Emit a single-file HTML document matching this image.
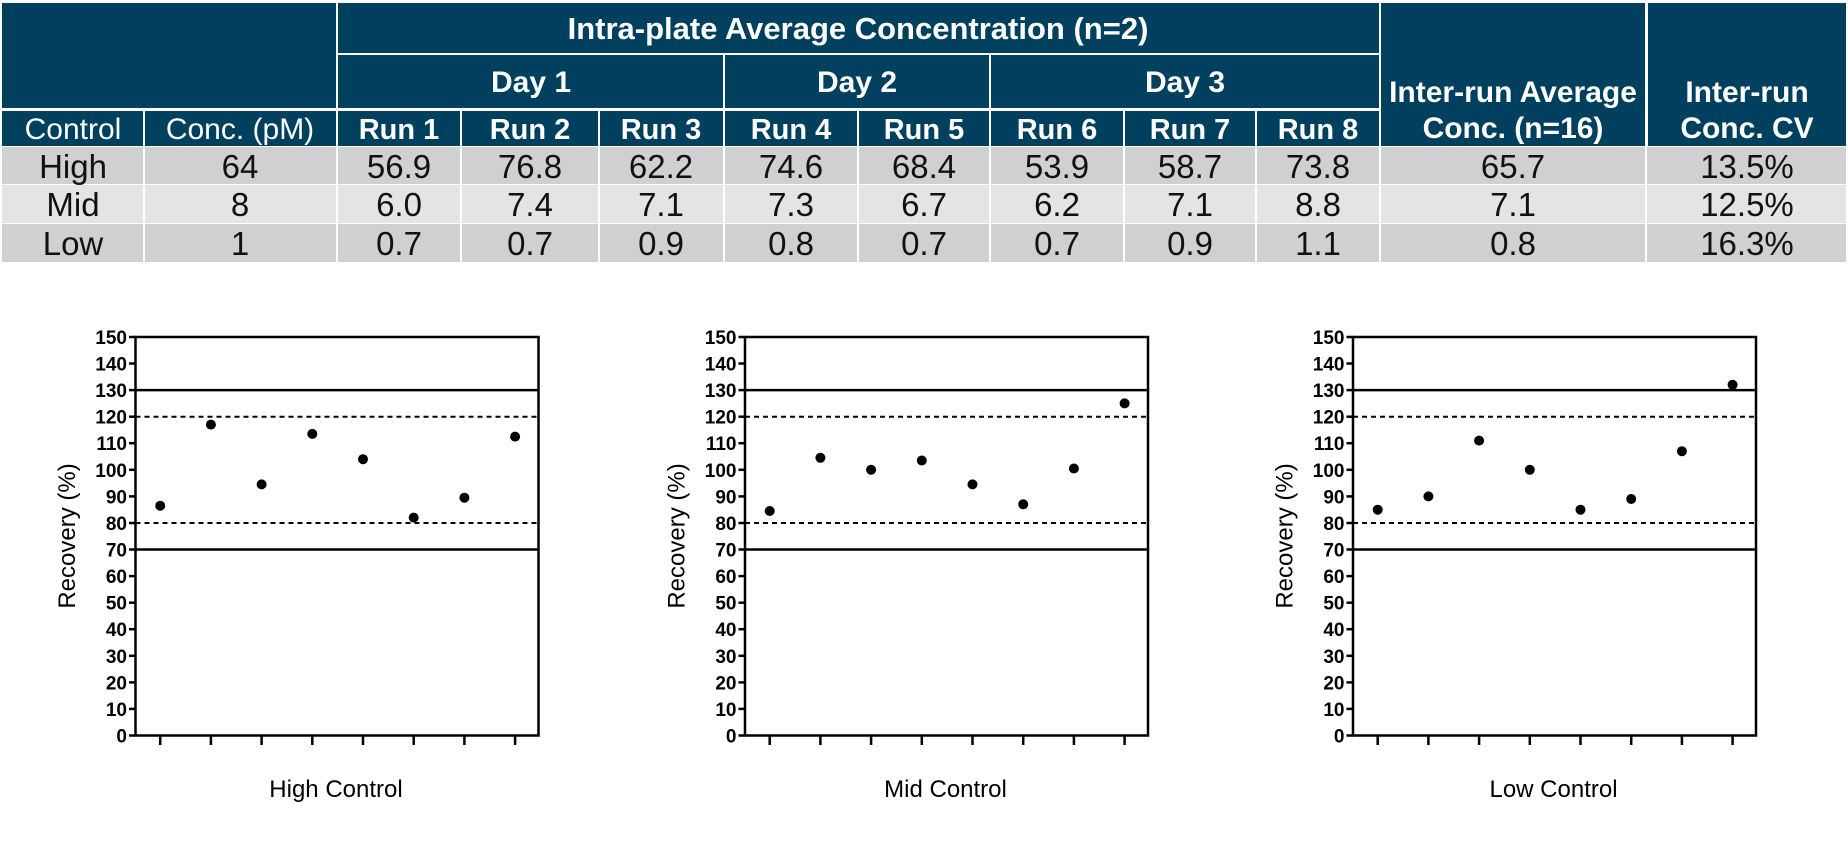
<!DOCTYPE html>
<html><head><meta charset="utf-8"><style>
html,body{margin:0;padding:0;background:#fff;width:1848px;height:852px;overflow:hidden}
svg{display:block}
.h{font-family:"Liberation Sans Narrow","Liberation Sans",sans-serif;fill:#fff;text-anchor:middle}
.b{font-weight:bold}
.d{font-family:"Liberation Sans Narrow","Liberation Sans",sans-serif;fill:#111;text-anchor:middle;font-size:33px}
.t{font-family:"Liberation Sans",sans-serif;font-weight:bold;font-size:19px;text-anchor:end;fill:#000}
.l{font-family:"Liberation Sans",sans-serif;font-size:24px;fill:#000;text-anchor:middle}
</style></head><body>
<svg width="1848" height="852" viewBox="0 0 1848 852" xmlns="http://www.w3.org/2000/svg">
<g fill="#00405f">
<rect x="2" y="3" width="334" height="105"/>
<rect x="338" y="3" width="1041" height="50"/>
<rect x="338" y="55" width="385" height="53"/>
<rect x="725" y="55" width="264" height="53"/>
<rect x="991" y="55" width="388" height="53"/>
<rect x="1381" y="3" width="264" height="143"/>
<rect x="1648" y="3" width="198" height="143"/>
<rect x="2" y="111" width="141" height="35"/>
<rect x="145" y="111" width="191" height="35"/>
<rect x="338" y="111" width="122" height="35"/>
<rect x="462" y="111" width="136" height="35"/>
<rect x="600" y="111" width="123" height="35"/>
<rect x="725" y="111" width="132" height="35"/>
<rect x="859" y="111" width="130" height="35"/>
<rect x="991" y="111" width="132" height="35"/>
<rect x="1125" y="111" width="130" height="35"/>
<rect x="1257" y="111" width="122" height="35"/>
</g>
<g>
<rect x="2" y="147" width="1844" height="37" fill="#d0d0d2"/>
<rect x="2" y="185" width="1844" height="38" fill="#e4e4e6"/>
<rect x="2" y="224" width="1844" height="38" fill="#d0d0d2"/>
<g stroke="#fff" stroke-width="2">
<line x1="144" y1="147" x2="144" y2="262"/><line x1="337" y1="147" x2="337" y2="262"/>
<line x1="461" y1="147" x2="461" y2="262"/><line x1="599" y1="147" x2="599" y2="262"/>
<line x1="724" y1="147" x2="724" y2="262"/><line x1="858" y1="147" x2="858" y2="262"/>
<line x1="990" y1="147" x2="990" y2="262"/><line x1="1124" y1="147" x2="1124" y2="262"/>
<line x1="1256" y1="147" x2="1256" y2="262"/><line x1="1380" y1="147" x2="1380" y2="262"/>
<line x1="1646" y1="147" x2="1646" y2="262"/>
</g>
</g>
<text class="h b" x="858" y="39" font-size="31">Intra-plate Average Concentration (n=2)</text>
<text class="h b" x="531" y="92" font-size="30">Day 1</text>
<text class="h b" x="857" y="92" font-size="30">Day 2</text>
<text class="h b" x="1185" y="92" font-size="30">Day 3</text>
<text class="h b" x="1513" y="102" font-size="30">Inter-run Average</text>
<text class="h b" x="1513" y="138" font-size="30">Conc. (n=16)</text>
<text class="h b" x="1747" y="102" font-size="30">Inter-run</text>
<text class="h b" x="1747" y="138" font-size="30">Conc. CV</text>
<text class="h" x="73" y="139" font-size="30">Control</text>
<text class="h" x="240" y="139" font-size="30">Conc. (pM)</text>
<g class="h b" font-size="29">
<text x="399" y="139">Run 1</text><text x="530" y="139">Run 2</text><text x="661" y="139">Run 3</text>
<text x="791" y="139">Run 4</text><text x="924" y="139">Run 5</text><text x="1057" y="139">Run 6</text>
<text x="1190" y="139">Run 7</text><text x="1318" y="139">Run 8</text>
</g>
<g class="d">
<text x="73" y="178">High</text><text x="240" y="178">64</text><text x="399" y="178">56.9</text><text x="530" y="178">76.8</text><text x="661" y="178">62.2</text><text x="791" y="178">74.6</text><text x="924" y="178">68.4</text><text x="1057" y="178">53.9</text><text x="1190" y="178">58.7</text><text x="1318" y="178">73.8</text><text x="1513" y="178">65.7</text><text x="1747" y="178">13.5%</text>
<text x="73" y="216">Mid</text><text x="240" y="216">8</text><text x="399" y="216">6.0</text><text x="530" y="216">7.4</text><text x="661" y="216">7.1</text><text x="791" y="216">7.3</text><text x="924" y="216">6.7</text><text x="1057" y="216">6.2</text><text x="1190" y="216">7.1</text><text x="1318" y="216">8.8</text><text x="1513" y="216">7.1</text><text x="1747" y="216">12.5%</text>
<text x="73" y="255">Low</text><text x="240" y="255">1</text><text x="399" y="255">0.7</text><text x="530" y="255">0.7</text><text x="661" y="255">0.9</text><text x="791" y="255">0.8</text><text x="924" y="255">0.7</text><text x="1057" y="255">0.7</text><text x="1190" y="255">0.9</text><text x="1318" y="255">1.1</text><text x="1513" y="255">0.8</text><text x="1747" y="255">16.3%</text>
</g>

<defs>
<g id="frame">
<rect x="135.5" y="337" width="403" height="398.5" fill="none" stroke="#000" stroke-width="2.5"/>
<g stroke="#000" stroke-width="2.5">
<line x1="129" y1="735.5" x2="135.5" y2="735.5"/><line x1="129" y1="708.9" x2="135.5" y2="708.9"/>
<line x1="129" y1="682.4" x2="135.5" y2="682.4"/><line x1="129" y1="655.8" x2="135.5" y2="655.8"/>
<line x1="129" y1="629.2" x2="135.5" y2="629.2"/><line x1="129" y1="602.7" x2="135.5" y2="602.7"/>
<line x1="129" y1="576.1" x2="135.5" y2="576.1"/><line x1="129" y1="549.5" x2="135.5" y2="549.5"/>
<line x1="129" y1="523" x2="135.5" y2="523"/><line x1="129" y1="496.4" x2="135.5" y2="496.4"/>
<line x1="129" y1="469.8" x2="135.5" y2="469.8"/><line x1="129" y1="443.2" x2="135.5" y2="443.2"/>
<line x1="129" y1="416.7" x2="135.5" y2="416.7"/><line x1="129" y1="390.1" x2="135.5" y2="390.1"/>
<line x1="129" y1="363.5" x2="135.5" y2="363.5"/><line x1="129" y1="337" x2="135.5" y2="337"/>
<line x1="135.5" y1="549.5" x2="538.5" y2="549.5"/><line x1="135.5" y1="390.1" x2="538.5" y2="390.1"/>
<line x1="160.2" y1="735.5" x2="160.2" y2="745"/><line x1="210.9" y1="735.5" x2="210.9" y2="745"/>
<line x1="261.6" y1="735.5" x2="261.6" y2="745"/><line x1="312.3" y1="735.5" x2="312.3" y2="745"/>
<line x1="363" y1="735.5" x2="363" y2="745"/><line x1="413.7" y1="735.5" x2="413.7" y2="745"/>
<line x1="464.4" y1="735.5" x2="464.4" y2="745"/><line x1="515.1" y1="735.5" x2="515.1" y2="745"/>
</g>
<g stroke="#000" stroke-width="2" stroke-dasharray="5,4">
<line x1="135.5" y1="523" x2="538.5" y2="523"/><line x1="135.5" y1="416.7" x2="538.5" y2="416.7"/>
</g>
<g class="t">
<text x="127" y="742.5">0</text><text x="127" y="715.9">10</text><text x="127" y="689.4">20</text>
<text x="127" y="662.8">30</text><text x="127" y="636.2">40</text><text x="127" y="609.7">50</text>
<text x="127" y="583.1">60</text><text x="127" y="556.5">70</text><text x="127" y="530">80</text>
<text x="127" y="503.4">90</text><text x="127" y="476.8">100</text><text x="127" y="450.2">110</text>
<text x="127" y="423.7">120</text><text x="127" y="397.1">130</text><text x="127" y="370.5">140</text>
<text x="127" y="344">150</text>
</g>
<text class="l" transform="translate(75,536) rotate(-90)">Recovery (%)</text>
</g>
</defs>

<use href="#frame"/>
<text class="l" x="336" y="797" font-size="28">High Control</text>
<g fill="#000">
<circle cx="160.2" cy="505.7" r="5"/><circle cx="210.9" cy="424.6" r="5"/><circle cx="261.6" cy="484.4" r="5"/><circle cx="312.3" cy="433.9" r="5"/>
<circle cx="363" cy="459.2" r="5"/><circle cx="413.7" cy="517.6" r="5"/><circle cx="464.4" cy="497.7" r="5"/><circle cx="515.1" cy="436.6" r="5"/>
</g>

<g transform="translate(609.5,0)">
<use href="#frame"/>
<text class="l" x="336" y="797" font-size="28">Mid Control</text>
<g fill="#000">
<circle cx="160.2" cy="511" r="5"/><circle cx="210.9" cy="457.8" r="5"/><circle cx="261.6" cy="469.8" r="5"/><circle cx="312.3" cy="460.5" r="5"/>
<circle cx="363" cy="484.4" r="5"/><circle cx="413.7" cy="504.3" r="5"/><circle cx="464.4" cy="468.5" r="5"/><circle cx="515.1" cy="403.4" r="5"/>
</g>
</g>

<g transform="translate(1217.5,0)">
<use href="#frame"/>
<text class="l" x="336" y="797" font-size="28">Low Control</text>
<g fill="#000">
<circle cx="160.2" cy="509.7" r="5"/><circle cx="210.9" cy="496.4" r="5"/><circle cx="261.6" cy="440.6" r="5"/><circle cx="312.3" cy="469.8" r="5"/>
<circle cx="363" cy="509.7" r="5"/><circle cx="413.7" cy="499" r="5"/><circle cx="464.4" cy="451.2" r="5"/><circle cx="515.1" cy="384.8" r="5"/>
</g>
</g>
</svg>
</body></html>
